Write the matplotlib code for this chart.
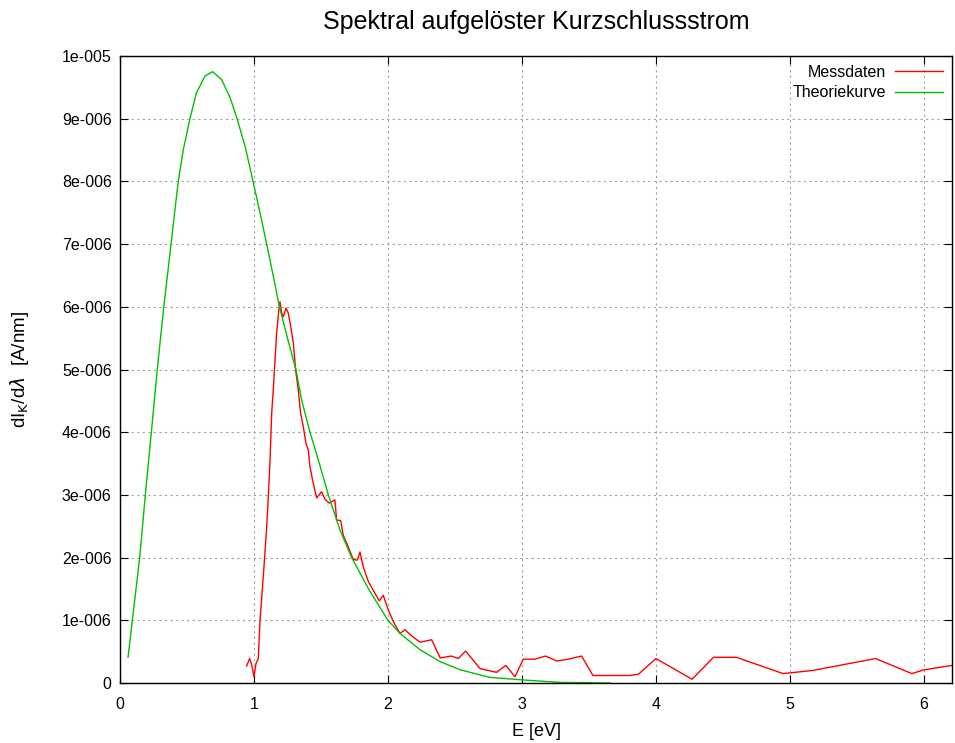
import matplotlib
matplotlib.use("Agg")
import matplotlib.pyplot as plt
from matplotlib.ticker import FixedLocator, FuncFormatter

plt.rcParams['font.family'] = ['Liberation Sans', 'DejaVu Sans']

# Messdaten: photon energy [eV] and spectral short-circuit current [1e-6 A/nm]
E_mess = [0.945, 0.968, 0.983, 1.0, 1.015, 1.032, 1.045, 1.062, 1.077, 1.095,
          1.107, 1.119, 1.132, 1.144, 1.157, 1.169, 1.187, 1.194, 1.207, 1.219,
          1.239, 1.256, 1.276, 1.294, 1.311, 1.331, 1.348, 1.368, 1.388, 1.405,
          1.418, 1.437, 1.468, 1.505, 1.53, 1.562, 1.604, 1.617, 1.647, 1.666,
          1.704, 1.741, 1.771, 1.791, 1.816, 1.853, 1.89, 1.935, 1.965, 2.0,
          2.04, 2.09, 2.127, 2.177, 2.24, 2.326, 2.39, 2.475, 2.525, 2.58,
          2.687, 2.81, 2.88, 2.948, 3.01, 3.097, 3.177, 3.26, 3.345, 3.445,
          3.53, 3.806, 3.87, 4.0, 4.27, 4.43, 4.6, 4.95, 5.17, 5.64,
          5.91, 6.0, 6.21]
I_mess = [0.27, 0.39, 0.29, 0.10, 0.31, 0.39, 1.00, 1.48, 1.93, 2.49,
          2.98, 3.50, 4.30, 4.67, 5.15, 5.58, 5.98, 6.08, 5.90, 5.84,
          5.98, 5.90, 5.66, 5.42, 4.99, 4.67, 4.30, 4.09, 3.82, 3.72,
          3.45, 3.24, 2.95, 3.05, 2.93, 2.87, 2.92, 2.60, 2.59, 2.36,
          2.17, 1.97, 1.96, 2.09, 1.85, 1.62, 1.48, 1.31, 1.40, 1.18,
          0.98, 0.79, 0.85, 0.75, 0.65, 0.69, 0.40, 0.43, 0.39, 0.51,
          0.23, 0.17, 0.28, 0.10, 0.38, 0.38, 0.43, 0.35, 0.38, 0.43,
          0.12, 0.12, 0.14, 0.39, 0.06, 0.41, 0.41, 0.15, 0.20, 0.39,
          0.15, 0.21, 0.28]

# Theoriekurve
E_theo = [0.06, 0.092, 0.147, 0.189, 0.234, 0.278, 0.327, 0.354, 0.381, 0.41,
          0.435, 0.472, 0.522, 0.57, 0.634, 0.692, 0.759, 0.821, 0.871, 0.935,
          0.995, 1.045, 1.095, 1.144, 1.19, 1.25, 1.313, 1.356, 1.418, 1.488,
          1.555, 1.642, 1.729, 1.866, 2.0, 2.09, 2.24, 2.39, 2.54, 2.76,
          3.0, 3.28, 3.66]
I_theo = [0.41, 1.0, 2.0, 3.0, 4.0, 5.0, 6.0, 6.5, 7.0, 7.55,
          8.0, 8.5, 9.0, 9.41, 9.68, 9.75, 9.62, 9.34, 9.02, 8.55,
          7.98, 7.5, 7.0, 6.49, 6.0, 5.5, 5.0, 4.51, 4.0, 3.5,
          3.0, 2.44, 2.0, 1.46, 1.0, 0.79, 0.53, 0.34, 0.21, 0.09,
          0.05, 0.01, 0.0]

y_ticks = [i * 1e-6 for i in range(11)]
y_labels = ['0'] + ['%de-006' % i for i in range(1, 10)] + ['1e-005']

fig = plt.figure(figsize=(9.55, 7.43), dpi=100)
ax = fig.add_axes([120 / 955, 1 - 683 / 743, 832 / 955, 627 / 743])

ax.plot(E_mess, [v * 1e-6 for v in I_mess], color='#ff0000', lw=1.0, label='Messdaten')
ax.plot(E_theo, [v * 1e-6 for v in I_theo], color='#00c000', lw=1.0, label='Theoriekurve')

ax.set_xlim(0, 6.21)
ax.set_ylim(0, 1e-5)
ax.xaxis.set_major_locator(FixedLocator(range(0, 7)))
ax.yaxis.set_major_locator(FixedLocator(y_ticks))
ax.yaxis.set_major_formatter(FuncFormatter(lambda v, p: y_labels[p] if p is not None and p < len(y_labels) else ''))

ax.tick_params(direction='in', top=True, right=True, length=6, labelsize=11.5)
ax.tick_params(axis='x', pad=10)
ax.tick_params(axis='y', pad=6)
ax.grid(True, color='#a0a0a0', linestyle=(0, (2, 3)), linewidth=0.8)
for s in ax.spines.values():
    s.set_linewidth(1.0)

fig.text((120 + 952) / 2 / 955, 1 - 22 / 743, 'Spektral aufgelöster Kurzschlussstrom',
         fontsize=18, ha='center', va='center')
ax.set_xlabel('E [eV]', fontsize=13, labelpad=8)
ax.set_ylabel(r'dI$_\mathrm{K}$/d$\lambda$  [A/nm]', fontsize=13.5, labelpad=22)

leg = ax.legend(loc='upper right', frameon=False, fontsize=11.5, markerfirst=False,
                handlelength=3.0, handletextpad=0.6, borderaxespad=0.15, labelspacing=0.35)
for t in leg.get_texts():
    t.set_ha('right')

fig.savefig('out.png', dpi=100)
